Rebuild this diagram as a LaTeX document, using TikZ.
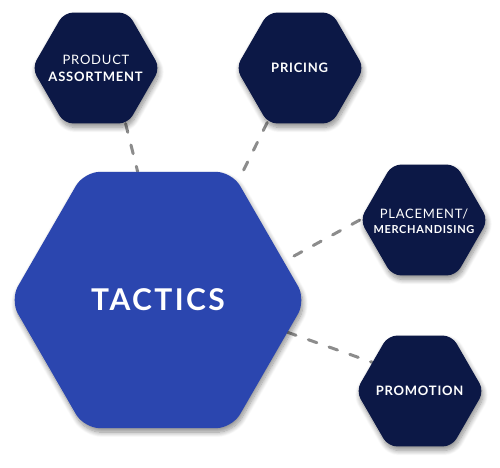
\documentclass[tikz,border=0pt]{standalone}
\usepackage{fontspec}
\setmainfont{Lato}
\usetikzlibrary{shapes.geometric,backgrounds,shadows.blur}
\definecolor{navy}{RGB}{12,24,70}
\definecolor{tacblue}{RGB}{43,70,175}
\definecolor{dashgray}{RGB}{140,140,140}
\newfontfamily\lblfont[LetterSpace=6]{Lato}
\newfontfamily\bigfont[LetterSpace=8]{Lato}
\begin{document}
\begin{tikzpicture}[x=1pt,y=-1pt,
  hexbase/.style={regular polygon, regular polygon sides=6, inner sep=0pt,
    blur shadow={shadow xshift=1.5pt, shadow yshift=-4pt, shadow blur steps=10,
      shadow blur radius=5pt, shadow opacity=45}},
  hexsmall/.style={hexbase, minimum size=128pt, fill=navy, rounded corners=9pt},
  hexbig/.style={hexbase, minimum size=296pt, fill=tacblue, rounded corners=16pt},
  lbl/.style={text=white, align=center, inner sep=0pt,
    font=\lblfont\fontsize{13}{17}\selectfont},
  biglbl/.style={text=white, inner sep=0pt, font=\bigfont\bfseries\fontsize{30}{34}\selectfont},
  conn/.style={draw=dashgray, line width=3pt, line cap=round, dash pattern=on 9pt off 13pt}
]
\useasboundingbox (0,0) rectangle (500,467);
\node[hexbig] (tac) at (158,300) {};
\node[hexsmall] (prod) at (96,68) {};
\node[hexsmall] (pri) at (300,68) {};
\node[hexsmall] (pla) at (424,220) {};
\node[hexsmall] (pro) at (420,391) {};
\node[biglbl] (tact) at (tac.center) {TACTICS};
\node[lbl] (prodt) at (prod.center) {PRODUCT\\\textbf{ASSORTMENT}};
\node[lbl] (prit) at (pri.center) {\textbf{PRICING}};
\node[lbl, font=\lblfont\fontsize{13}{15}\selectfont] (plat) at ([yshift=-1pt]pla.center) {PLACEMENT/\\{\bfseries\fontsize{11}{15}\selectfont MERCHANDISING}};
\node[lbl] (prot) at (pro.center) {\textbf{PROMOTION}};
\begin{scope}[on background layer]
\draw[conn] (prod.-62) -- (tac.99);
\draw[conn] (pri.-121) -- (tac.56);
\draw[conn] (pla.180) -- (tac.17);
\draw[conn] (tac.-14) -- (pro.149);
\end{scope}
\end{tikzpicture}
\end{document}
